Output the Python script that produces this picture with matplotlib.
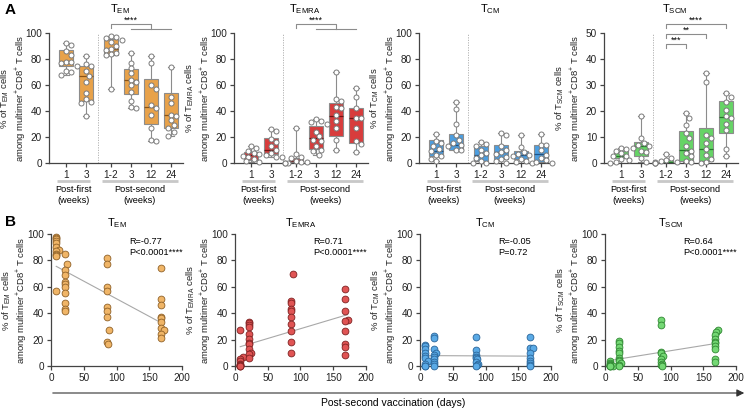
import numpy as np
import matplotlib
matplotlib.use('Agg')
import matplotlib.pyplot as plt
from matplotlib.patches import FancyArrowPatch
import matplotlib.transforms as mtrans

plt.rcParams['font.family'] = ['Liberation Sans', 'DejaVu Sans']
plt.rcParams['mathtext.default'] = 'regular'

W, H = 748, 409
fig = plt.figure(figsize=(W / 100, H / 100), dpi=100)

# ---------------- data ----------------
categories = ['1', '3', '1-2', '3', '12', '24']
subsets = ['EM', 'EMRA', 'CM', 'SCM']

em_pts = [
    [92, 91, 86, 83, 78, 78, 77, 75, 71, 70, 68],
    [82, 76, 75, 71, 67, 62, 54, 49, 47, 46, 36],
    [98, 97, 96, 95, 93, 90, 88, 87, 85, 84, 83, 57],
    [85, 77, 73, 69, 64, 62, 60, 55, 48, 43, 42],
    [82, 77, 60, 57, 45, 42, 37, 27, 18, 17],
    [74, 51, 46, 37, 36, 33, 29, 27, 24, 21],
]
em_q1 = [74.5, 47.7, 83, 53, 30, 27]
em_med = [78, 67, 87.5, 64, 43, 37]
em_q3 = [87, 75, 95.7, 72, 65, 54]

emra_pts = [
    [12.8, 11.5, 9, 8, 7, 5.6, 5, 3, 1.5, 0.8],
    [26, 25, 18.6, 16, 12.8, 9.7, 7.7, 6.4, 5, 4.3],
    [27, 6.6, 5, 3.8, 1.3, 1, 0.5, 0.3, 0, 0],
    [33.7, 32.6, 31.4, 29.8, 24, 20.4, 17.8, 16.6, 12.8, 10.2, 9, 6.4],
    [70, 49, 48, 43.4, 42, 37, 32, 26.8, 17.9, 10.2],
    [58, 50.5, 42, 35, 34.4, 26.8, 16.6, 14.5, 8.2],
]
emra_q1 = [2.6, 7, 0.5, 10.7, 20.9, 15.3]
emra_med = [5.9, 9.7, 1.8, 19.6, 36.2, 35]
emra_q3 = [8.4, 19, 4.1, 28.6, 45.9, 42.6]

cm_pts = [
    [22, 16.6, 15.3, 12.8, 10.7, 9, 6.4, 5.1, 3.3, 1.3],
    [46.7, 41.6, 30, 21.7, 17.9, 15.3, 14, 12.8, 10.2, 9.7],
    [16, 14.8, 12.8, 10.2, 7.7, 5.9, 3.8, 1.3, 0.3, 0],
    [23, 21.2, 12.8, 9.7, 8.4, 7.1, 5, 3, 1.3, 0],
    [21.7, 12, 8.2, 6.9, 5.9, 5.1, 3, 1.8, 0.5, 0],
    [22, 14, 13.5, 9.7, 6.4, 3.8, 2, 0.5, 0],
]
cm_q1 = [5.1, 9.7, 1.3, 3, 3, 1]
cm_med = [8.9, 14, 6.4, 8.2, 6.4, 6.9]
cm_q3 = [17.9, 22.2, 13.3, 14, 8.9, 14]

scm_pts = [
    [5.9, 5.4, 4.5, 3.8, 2.8, 2.6, 1.5, 1, 0.3, 0],
    [18.1, 9.6, 7.7, 6.8, 6.4, 5.7, 4.8, 4.1, 1.9, 0.5],
    [3.6, 1.9, 1.3, 0.9, 0.5, 0.3, 0.1, 0, 0],
    [19.1, 17.2, 14.7, 11.5, 9.6, 6.4, 4.8, 3.8, 2.6, 0.8, 0.3],
    [34.7, 31.3, 10.8, 9.6, 7.7, 5.5, 3.2, 1.5, 0.4, 0],
    [27, 25.5, 23.6, 20.4, 17.9, 17.2, 15, 12.8, 5.4, 2.8],
]
scm_q1 = [1.9, 2.8, 0, 0.6, 0.6, 11.5]
scm_med = [2.8, 6.6, 0.4, 5.1, 5.4, 17.6]
scm_q3 = [4.5, 7.9, 1.3, 12.4, 13.4, 23.9]

# days after second vaccination for each post-second point (panel B)
em_days = [
    [8, 8, 8, 8, 8, 8, 12, 8, 8, 8, 8, 8],
    [21, 25, 21, 21, 21, 21, 21, 21, 21, 21, 21],
    [85, 85, 85, 85, 85, 85, 85, 88, 85, 87],
    [168, 168, 168, 168, 168, 168, 168, 172, 168, 168],
]
emra_days = [
    [8, 12, 8, 8, 8, 8, 8, 8, 8, 8],
    [21, 21, 21, 21, 21, 21, 21, 21, 21, 25, 21, 21],
    [88, 85, 85, 85, 85, 85, 85, 85, 85, 85],
    [168, 168, 168, 172, 168, 168, 168, 168, 168],
]
cm_days = [
    [8, 8, 8, 8, 8, 8, 12, 8, 8, 8],
    [21, 21, 21, 25, 21, 21, 21, 21, 21, 21],
    [85, 85, 85, 85, 85, 87, 85, 88, 87, 85],
    [168, 168, 172, 168, 168, 168, 168, 168, 168],
]
scm_days = [
    [8, 8, 8, 8, 8, 12, 8, 8, 8],
    [21, 21, 21, 21, 21, 21, 21, 21, 25, 21, 21],
    [85, 85, 85, 85, 88, 85, 85, 87, 85, 87],
    [172, 170, 168, 168, 168, 168, 168, 168, 168, 168],
]

r_text = ['R=-0.77', 'R=0.71', 'R=-0.05', 'R=0.64']
p_text = ['P<0.0001****', 'P<0.0001****', 'P=0.72', 'P<0.0001****']

A_pts = [em_pts, emra_pts, cm_pts, scm_pts]
A_q1 = [em_q1, emra_q1, cm_q1, scm_q1]
A_med = [em_med, emra_med, cm_med, scm_med]
A_q3 = [em_q3, emra_q3, cm_q3, scm_q3]
B_days = [em_days, emra_days, cm_days, scm_days]
A_ymax = [100, 100, 100, 50]

# ---------------- styles ----------------
box_col = ['#E8A24A', '#D83C3C', '#4C9EE0', '#66D466']
med_col = ['#8a5316', '#6e1414', '#1d5488', '#24782a']
dot_face = ['#F0B567', '#E05454', '#5AAAE6', '#74D874']
dot_edge = ['#8f6128', '#7e2222', '#2a6599', '#2f8632']
spine_c = '#444444'
pos = [0, 1, 2.25, 3.25, 4.25, 5.25]


def ax_px(x0, y0, x1, y1):
    return fig.add_axes([x0 / W, 1 - y1 / H, (x1 - x0) / W, (y1 - y0) / H])


def style(ax):
    for s in ['top', 'right']:
        ax.spines[s].set_visible(False)
    for s in ['left', 'bottom']:
        ax.spines[s].set_color(spine_c)
        ax.spines[s].set_linewidth(0.9)
    ax.tick_params(length=3, width=0.9, color=spine_c, labelsize=7.2,
                   labelcolor='#222222', pad=2)


def swarm(vals, ppu, d=5.2, step=2.7):
    placed, offs = [], []
    for v in vals:
        y = v * ppu
        for k in [0, 1, -1, 2, -2, 3, -3, 4, -4]:
            x = k * step
            if all((x - px) ** 2 + (y - py) ** 2 >= d * d for px, py in placed):
                break
        placed.append((x, y))
        offs.append(x)
    return np.array(offs)


def ylab(x_px, y_px, sub):
    fig.text(x_px / W, 1 - y_px / H,
             '%% of T$_{%s}$ cells\namong multimer$^{+}$CD8$^{+}$ T cells' % sub,
             rotation=90, ha='center', va='center', fontsize=6.8,
             multialignment='center', color='#222222', linespacing=1.15)


A_left = [49, 234, 419, 604]
for i in range(4):
    ax = ax_px(A_left[i], 33, A_left[i] + 134, 163)
    style(ax)
    ymax = A_ymax[i]
    stats = []
    for p, a, m, b in zip(A_pts[i], A_q1[i], A_med[i], A_q3[i]):
        stats.append(dict(med=m, q1=a, q3=b, whislo=min(p), whishi=max(p), fliers=[]))
    ax.bxp(stats, positions=pos, widths=0.72, showfliers=False, patch_artist=True,
           boxprops=dict(facecolor=box_col[i], edgecolor='#8c8c8c', linewidth=0.8),
           medianprops=dict(color=med_col[i], linewidth=0.9),
           whiskerprops=dict(color='#8c8c8c', linewidth=0.8),
           capprops=dict(color='#8c8c8c', linewidth=0.8), capwidths=0.3,
           manage_ticks=False)
    ppu = 130.0 / ymax
    for p, x0 in zip(A_pts[i], pos):
        offs = swarm(p, ppu)
        ax.scatter(x0 + offs / 20.0, p, s=13, c='white', edgecolors='#7a7a7a',
                   linewidths=0.7, zorder=4, clip_on=False)
    ax.set_xlim(-0.85, 5.85)
    ax.set_ylim(0, ymax)
    ax.set_yticks(np.arange(0, ymax + 1, ymax / 5))
    ax.set_xticks(pos)
    ax.set_xticklabels(categories)
    ax.axvline(1.6, color='#aaaaaa', lw=0.6, ls=(0, (1.5, 1.5)))
    tr = mtrans.blended_transform_factory(ax.transData, ax.transAxes)
    ax.plot([-0.45, 1.2], [-0.138, -0.138], color='#c8c8c8', lw=2, transform=tr,
            clip_on=False, solid_capstyle='butt')
    ax.plot([1.8, 5.6], [-0.138, -0.138], color='#c8c8c8', lw=2, transform=tr,
            clip_on=False, solid_capstyle='butt')
    ax.text(0.38, -0.205, 'Post-first', transform=tr, ha='center', va='center', fontsize=6.6)
    ax.text(0.38, -0.29, '(weeks)', transform=tr, ha='center', va='center', fontsize=6.6)
    ax.text(3.7, -0.205, 'Post-second', transform=tr, ha='center', va='center', fontsize=6.6)
    ax.text(3.7, -0.29, '(weeks)', transform=tr, ha='center', va='center', fontsize=6.6)
    bc = '#8c8c8c'
    if i in (0, 1):
        ax.plot([2.25, 2.25, 4.25, 4.25], [104, 107, 107, 103.3], color=bc, lw=0.8, clip_on=False)
        ax.plot([3.25, 5.25], [103.3, 103.3], color=bc, lw=0.8, clip_on=False)
        ax.text(3.25, 106.2, '****', ha='center', va='bottom', fontsize=6.5, clip_on=False)
    elif i == 3:
        for x2, yb, lab in [(5.25, 53.6, '****'), (4.25, 49.7, '**'), (3.25, 45.9, '***')]:
            ax.plot([2.25, 2.25, x2, x2], [yb - 1.5, yb, yb, yb - 1.5], color=bc, lw=0.8,
                    clip_on=False)
            ax.text((2.25 + x2) / 2, yb - 0.4, lab, ha='center', va='bottom', fontsize=6.5,
                    clip_on=False)
    fig.text((A_left[i] + 134 * 0.53) / W, 1 - 9 / H, 'T$_{%s}$' % subsets[i],
             ha='center', va='center', fontsize=8)
    ylab(A_left[i] - 35.8, 98, subsets[i])

# ---------------- row B ----------------
B_left = [51, 235, 420, 605]
for i in range(4):
    ax = ax_px(B_left[i], 234, B_left[i] + 131, 366)
    style(ax)
    xs, ys = [], []
    for d, p in zip(B_days[i], A_pts[i][2:]):
        xs += list(d)
        ys += list(p)
    xs = np.array(xs, float)
    ys = np.array(ys, float)
    ax.scatter(xs, ys, s=24, c=dot_face[i], edgecolors=dot_edge[i], linewidths=0.6,
               zorder=3, clip_on=False)
    k, b0 = np.polyfit(xs, ys, 1)
    xl = np.array([xs.min(), xs.max()])
    ax.plot(xl, k * xl + b0, color='#a8a8a8', lw=0.8, zorder=2)
    ax.set_xlim(0, 200)
    ax.set_ylim(0, 100)
    ax.set_xticks([0, 50, 100, 150, 200])
    ax.set_yticks([0, 20, 40, 60, 80, 100])
    ax.text(120, 94, r_text[i], fontsize=6.6, ha='left', va='center')
    ax.text(120, 86, p_text[i], fontsize=6.6, ha='left', va='center')
    fig.text((B_left[i] + 131 * 0.5) / W, 1 - 223 / H, 'T$_{%s}$' % subsets[i],
             ha='center', va='center', fontsize=8)
    ylab(B_left[i] - 36, 300, subsets[i])

arrow = FancyArrowPatch((50 / W, 1 - 393 / H), (747 / W, 1 - 393 / H),
                        transform=fig.transFigure, arrowstyle='-|>',
                        mutation_scale=11, lw=0.8, color='#333333')
fig.add_artist(arrow)
fig.text(393 / W, 1 - 403 / H, 'Post-second vaccination (days)', ha='center',
         va='center', fontsize=7.5)

fig.text(5 / W, 1 - 10 / H, 'A', fontsize=11, fontweight='bold', va='center')
fig.text(5 / W, 1 - 222 / H, 'B', fontsize=11, fontweight='bold', va='center')

fig.savefig('out.png', dpi=100)
